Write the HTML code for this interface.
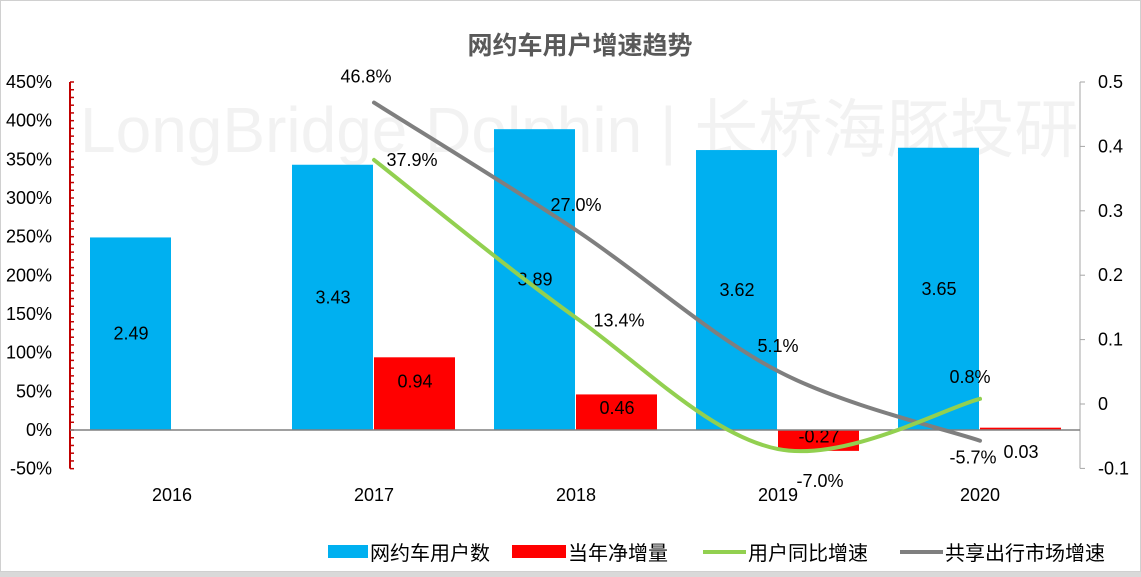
<!DOCTYPE html>
<html><head><meta charset="utf-8"><style>
body{margin:0;background:#fff;}
svg{display:block;font-family:"Liberation Sans","Noto Sans CJK SC",sans-serif;}
</style></head><body>
<svg id="c" width="1141" height="577" viewBox="0 0 1141 577">
<rect x="0.5" y="0.5" width="1140" height="571" fill="#fff" stroke="#d0d0d0"/>
<rect x="0" y="572" width="1141" height="5" fill="#d9d9d9"/>
<text x="80" y="152" font-size="64" fill="#f2f2f2">LongBridge Dolphin | 长桥海豚投研</text>
<text x="580" y="54" font-size="25" font-weight="bold" fill="#595959" text-anchor="middle">网约车用户增速趋势</text>
<g id="plot"></g>
<g font-size="20" fill="#000">
<g><rect x="328" y="545" width="40" height="13" fill="#00b0f0"/><text x="370" y="560">网约车用户数</text></g>
<g><rect x="512" y="545" width="54" height="13" fill="#ff0000"/><text x="568" y="560">当年净增量</text></g>
<g><line x1="703" y1="552" x2="746" y2="552" stroke="#92d050" stroke-width="4"/><text x="748" y="560">用户同比增速</text></g>
<g><line x1="900" y1="552" x2="943" y2="552" stroke="#7f7f7f" stroke-width="4"/><text x="945" y="560">共享出行市场增速</text></g>
</g>
</svg>
<script>
const categories=["2016","2017","2018","2019","2020"];
const users=[2.49,3.43,3.89,3.62,3.65];
const netIncrease=[null,0.94,0.46,-0.27,0.03];
const userGrowth=[null,0.379,0.134,-0.070,0.008];
const marketGrowth=[null,0.468,0.270,0.051,-0.057];
const leftTicks=[-0.5,0,0.5,1,1.5,2,2.5,3,3.5,4,4.5];
const rightTicks=[-0.1,0,0.1,0.2,0.3,0.4,0.5];

const NS="http://www.w3.org/2000/svg";
const g=document.getElementById('plot');
const X0=70,X1=1080;
const step=(X1-X0)/categories.length;
const xc=i=>X0+step*(i+0.5)+1;
const yL=v=>430-v*(348/4.5);
const yR=v=>404-v*644;
function mk(t,a,p){const e=document.createElementNS(NS,t);for(const k in a)e.setAttribute(k,a[k]);(p||g).appendChild(e);return e;}
function txt(x,y,s,o){const e=mk('text',Object.assign({x:x,y:y,'font-size':18,fill:'#000','text-anchor':'middle'},o||{}));e.textContent=s;return e;}

let ax=mk('line',{x1:X0,y1:yL(4.5),x2:X0,y2:yL(-0.5),stroke:'#c00000','stroke-width':2});


for(let v=-0.5;v<=4.5001;v+=0.1){const t=mk('line',{x1:X0,y1:yL(v),x2:X0+4,y2:yL(v),stroke:'#c00000','stroke-width':1.5});

}
leftTicks.forEach(v=>{const t=txt(52,yL(v)+6,Math.round(v*100)+'%',{'text-anchor':'end'});

});
let rx=mk('line',{x1:X1,y1:yR(0.5),x2:X1,y2:yR(-0.1),stroke:'#a6a6a6','stroke-width':1});


rightTicks.forEach(v=>{mk('line',{x1:X1,y1:yR(v),x2:X1+5,y2:yR(v),stroke:'#a6a6a6'});
const t=txt(1098,yR(v)+6,String(Math.round(v*10)/10),{'text-anchor':'start'});

});
users.forEach((v,i)=>{const c=xc(i);const b=mk('rect',{x:c-82,y:yL(v),width:81,height:yL(0)-yL(v),fill:'#00b0f0'});


const t=txt(c-41,(yL(v)+yL(0))/2+6,v.toFixed(2));

});
netIncrease.forEach((v,i)=>{if(v==null)return;const c=xc(i);const y=Math.min(yL(v),yL(0));const h=Math.abs(yL(v)-yL(0));
const b=mk('rect',{x:c,y:y,width:81,height:Math.max(h,1.5),fill:'#ff0000'});


const ly=h<15?yL(0)+(v>=0?28:6):y+h/2+(h>50?-6:2);
const t=txt(c+41,ly,v.toFixed(2));

});
let zl=mk('line',{x1:X0,y1:yL(0),x2:X1,y2:yL(0),stroke:'#808080','stroke-width':1.5});


categories.forEach((c,i)=>{const t=txt(xc(i),501,c);

});
function smooth(pts){let d='M'+pts[0][0]+','+pts[0][1];
for(let i=0;i<pts.length-1;i++){const p0=pts[Math.max(i-1,0)],p1=pts[i],p2=pts[i+1],p3=pts[Math.min(i+2,pts.length-1)];
const k=1/6;d+=' C'+(p1[0]+(p2[0]-p0[0])*k)+','+(p1[1]+(p2[1]-p0[1])*k)+' '+(p2[0]-(p3[0]-p1[0])*k)+','+(p2[1]-(p3[1]-p1[1])*k)+' '+p2[0]+','+p2[1];}
return d;}
function series(arr,color,name,off){const pts=[];arr.forEach((v,i)=>{if(v!=null)pts.push([xc(i),yR(v)]);});
const p=mk('path',{d:smooth(pts),fill:'none',stroke:color,'stroke-width':4,'stroke-linecap':'round'});


let j=0;arr.forEach((v,i)=>{if(v==null)return;const o=off[j++];
const t=txt(xc(i)+o[0],yR(v)+o[1],(v*100).toFixed(1)+'%');

});}
series(marketGrowth,'#7f7f7f','line-market-growth',[[-8,-20],[0,-19],[0,-19],[-7,23]]);
series(userGrowth,'#92d050','line-user-growth',[[38,6],[43,9],[42,38],[-10,-16]]);
</script>
</body></html>
